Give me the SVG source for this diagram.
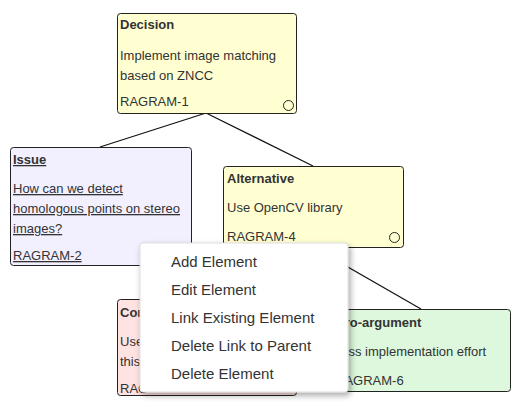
<svg xmlns="http://www.w3.org/2000/svg" width="521" height="416" viewBox="0 0 521 416">
<style>
.box{stroke:#222;stroke-width:1}
.t{font-family:"Liberation Sans",Arial,sans-serif;font-size:13px;fill:#333}
.b{font-weight:bold}
.u{text-decoration:underline}
.m{font-family:"Liberation Sans",Arial,sans-serif;font-size:15px;fill:#333}
.ln{stroke:#111;stroke-width:1.2;fill:none}
.ring{fill:none;stroke:#222;stroke-width:1}
</style>
<defs>
<filter id="sh" x="-10%" y="-10%" width="130%" height="130%">
<feGaussianBlur in="SourceAlpha" stdDeviation="3"/>
<feOffset dx="2" dy="3"/>
<feComponentTransfer><feFuncA type="linear" slope="0.35"/></feComponentTransfer>
<feMerge><feMergeNode/><feMergeNode in="SourceGraphic"/></feMerge>
</filter>
</defs>
<rect width="521" height="416" fill="#fff"/>
<g id="connectors">
<line class="ln" x1="206" y1="113" x2="100" y2="147"/>
<line class="ln" x1="206" y1="113" x2="313" y2="166"/>
<line class="ln" x1="313" y1="247" x2="421" y2="309"/>
<line class="ln" x1="313" y1="247" x2="206" y2="299"/>
</g>
<g id="n1">
<rect class="box" x="117.5" y="13.5" width="179" height="100" rx="3" fill="#ffffd2"/>
<text class="t b" x="120" y="29">Decision</text>
<text class="t" x="120" y="59.5">Implement image matching</text>
<text class="t" x="120" y="79.5">based on ZNCC</text>
<text class="t" x="120" y="106">RAGRAM-1</text>
<circle class="ring" cx="288.5" cy="105.5" r="5"/>
</g>
<g id="n2">
<rect class="box" x="10.5" y="147.5" width="181" height="118" rx="3" fill="#f2efff"/>
<text class="t b u" x="13" y="164">Issue</text>
<text class="t u" x="13" y="193">How can we detect</text>
<text class="t u" x="13" y="213">homologous points on stereo</text>
<text class="t u" x="13" y="233">images?</text>
<text class="t u" x="13" y="260">RAGRAM-2</text>
</g>
<g id="n4">
<rect class="box" x="223.5" y="166.5" width="180" height="81" rx="3" fill="#ffffd2"/>
<text class="t b" x="227" y="183">Alternative</text>
<text class="t" x="227" y="212">Use OpenCV library</text>
<text class="t" x="227" y="241">RAGRAM-4</text>
<circle class="ring" cx="394.5" cy="237.5" r="5"/>
</g>
<g id="n5">
<rect class="box" x="117.5" y="299.5" width="179" height="96" rx="3" fill="#ffe2e2"/>
<text class="t b" x="120" y="317">Con</text>
<text class="t" x="120" y="346">Use</text>
<text class="t" x="120" y="366">this</text>
<text class="t" x="120" y="393">RAG</text>
</g>
<g id="n6">
<rect class="box" x="332.5" y="309.5" width="178" height="82" rx="3" fill="#ddf8dc"/>
<text class="t b" x="336" y="327">Pro-argument</text>
<text class="t" x="334" y="356">Less implementation effort</text>
<text class="t" x="335" y="385">RAGRAM-6</text>
</g>
<g id="menu">
<rect x="140" y="243" width="208" height="149" rx="3" fill="#fff" stroke="#ddd" stroke-width="1" filter="url(#sh)"/>
<text class="m" x="171" y="267">Add Element</text>
<text class="m" x="171" y="295">Edit Element</text>
<text class="m" x="171" y="323">Link Existing Element</text>
<text class="m" x="171" y="351">Delete Link to Parent</text>
<text class="m" x="171" y="379">Delete Element</text>
</g>
</svg>
